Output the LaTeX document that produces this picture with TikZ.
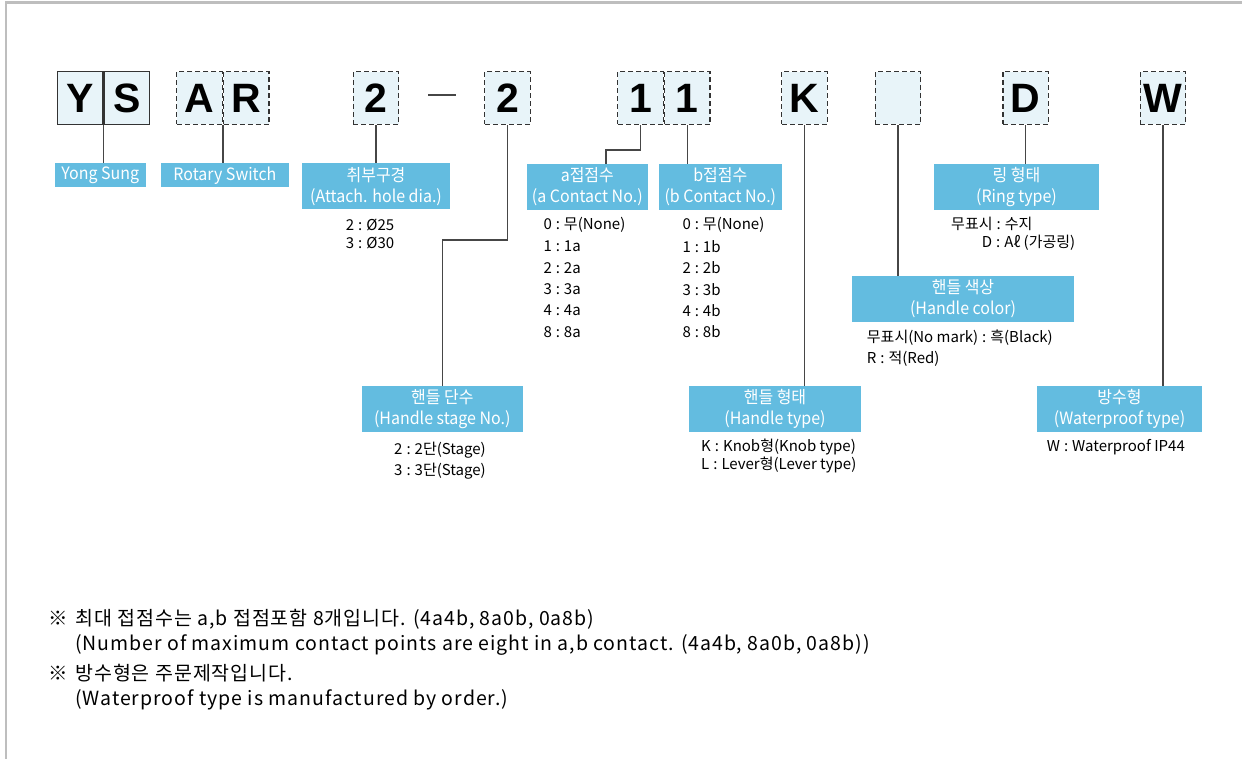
\documentclass[tikz,border=0pt]{standalone}
\usepackage{fontspec}
\setmainfont{Noto Sans CJK KR}
\newfontfamily\tagfont{Noto Sans CJK KR}[FakeStretch=0.94]
\newfontfamily\notefont{Noto Sans CJK KR}[LetterSpace=5]
\newfontfamily\codefont{Liberation Sans}
\usetikzlibrary{positioning}

\definecolor{cellfill}{RGB}{232,244,249}
\definecolor{tagfill}{RGB}{99,188,224}
\definecolor{framegray}{RGB}{190,190,190}
\definecolor{wiregray}{RGB}{70,70,70}

\newcommand\kol{\hspace{4pt}:\hspace{4pt}}

\tikzset{
  cell/.style={draw=black!80, fill=cellfill, line width=1.3pt, dash pattern=on 5pt off 3pt,
    minimum width=45.5pt, minimum height=52.5pt, inner sep=0pt,
    font=\codefont\bfseries\fontsize{41}{41}\selectfont},
  tag/.style={fill=tagfill, text=white, inner sep=0pt, minimum width=#1, minimum height=46pt,
    align=center, font=\tagfont\fontsize{17}{21}\selectfont},
  smalltag/.style={tag=#1, minimum height=24pt},
  item/.style={anchor=west, inner sep=0pt, font=\fontsize{15}{15}\selectfont},
  note/.style={anchor=base west, inner sep=0pt, align=left, font=\notefont\fontsize{19.5}{25}\selectfont},
  wire/.style={draw=wiregray, line width=1.3pt}
}

\begin{document}
\begin{tikzpicture}[x=1pt, y=-1pt]
    \useasboundingbox (0,0) rectangle (1242,759);
    \draw[framegray, line width=2.2pt] (1242,2.5) -- (6,2.5) -- (6,759);

    % code cells
    \node[cell, solid] (Y) at (80,98) {Y};
    \node[cell, solid, right=0pt of Y] (S) {S};
    \node[cell] (A) at (199.5,98) {A};
    \node[cell, right=0pt of A] (R) {R};
    \node[cell] (hole) at (376,98) {2};
    \node[cell] (stage) at (507.5,98) {2};
    \node[cell] (acnt) at (640.5,98) {1};
    \node[cell, right=0pt of acnt] (bcnt) {1};
    \node[cell] (K) at (804.5,98) {K};
    \node[cell] (color) at (898,98) {};
    \node[cell] (D) at (1025.7,98) {D};
    \node[cell] (W) at (1163,98) {W};
    \draw[wiregray, line width=1.2pt] (428,95) -- (455.7,95);

    % tags
    \node[smalltag=90.7pt] (tagys) at (100.3,175) {Yong Sung};
    \node[smalltag=127.7pt] (tagrs) at (224.9,175.3) {Rotary Switch};
    \node[tag=148pt] (taghole) at (376,186.5) {취부구경\\(Attach. hole dia.)};
    \node[tag=120.7pt] (taga) at (587.3,187) {a접점수\\(a Contact No.)};
    \node[tag=122.7pt] (tagb) at (720.3,187) {b접점수\\(b Contact No.)};
    \node[tag=165pt] (tagring) at (1016.5,187) {링 형태\\(Ring type)};
    \node[tag=222pt] (tagcolor) at (963,298.8) {핸들 색상\\(Handle color)};
    \node[tag=160.7pt] (tagstage) at (442.3,408.8) {핸들 단수\\(Handle stage No.)};
    \node[tag=172pt] (tagtype) at (775,408.8) {핸들 형태\\(Handle type)};
    \node[tag=165pt] (tagwater) at (1119.5,408.8) {방수형\\(Waterproof type)};

    % connectors
    \draw[wire] (Y.south east) -- (Y.south east |- tagys.north);
    \draw[wire] (A.south east) -- (A.south east |- tagrs.north);
    \draw[wire] (hole.south) -- (taghole.north);
    \coordinate (stagebend) at (0,240);
    \draw[wire] (stage.south) |- (stagebend -| tagstage.north) -- (tagstage.north);
    \coordinate (abend) at (606,150);
    \draw[wire] (acnt.south) |- (abend) -- (abend |- taga.north);
    \draw[wire] (bcnt.south) -- (bcnt.south |- tagb.north);
    \draw[wire] (K.south) -- (K.south |- tagtype.north);
    \draw[wire] (color.south) -- (color.south |- tagcolor.north);
    \draw[wire] (D.south) -- (D.south |- tagring.north);
    \draw[wire] (W.south) -- (W.south |- tagwater.north);

    % options
    \node[item] (hole1) at (345.7,225) {2\kol Ø25};
    \node[item] (hole2) at (345.7,243.3) {3\kol Ø30};
    \foreach \n/\a/\b [count=\i from 0] in {0/무(None)/무(None),1/1a/1b,2/2a/2b,3/3a/3b,4/4a/4b,8/8a/8b} {
        \node[item] (a\i) at (543.3,{225+21.4*\i}) {\n\kol\a};
        \node[item] (b\i) at (682.3,{225+21.4*\i}) {\n\kol\b};
    }
    \node[item] (ring1) at (951,224) {무표시\kol 수지};
    \node[item] (ring2) at (981.7,242.7) {D\kol Aℓ (가공링)};
    \node[item] (color1) at (866.7,337.3) {무표시(No mark)\kol 흑(Black)};
    \node[item] (color2) at (866.7,358.3) {R\kol 적(Red)};
    \node[item] (stage1) at (394,450) {2\kol 2단(Stage)};
    \node[item] (stage2) at (394,470.7) {3\kol 3단(Stage)};
    \node[item] (type1) at (701,446.7) {K\kol Knob형(Knob type)};
    \node[item] (type2) at (701,465) {L\kol Lever형(Lever type)};
    \node[item] (water1) at (1046.7,446.7) {W\kol Waterproof IP44};

    % notes
    \node[note] (mark1) at (48,625) {※};
    \node[note] (note1) at (75,650) {최대 접점수는 a,b 접점포함 8개입니다. (4a4b, 8a0b, 0a8b)\\(Number of maximum contact points are eight in a,b contact. (4a4b, 8a0b, 0a8b))};
    \node[note] (mark2) at (48,680) {※};
    \node[note] (note2) at (75,705) {방수형은 주문제작입니다.\\(Waterproof type is manufactured by order.)};
\end{tikzpicture}
\end{document}
